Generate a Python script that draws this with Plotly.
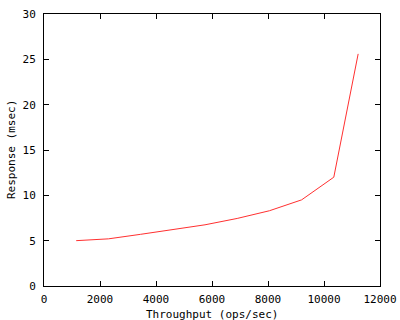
import plotly.graph_objects as go

throughput = [1150, 2300, 3450, 4600, 5750, 6900, 8050, 9200, 10350, 11220]
response = [5.0, 5.2, 5.7, 6.2, 6.75, 7.45, 8.3, 9.5, 12.0, 25.6]

x_ticks = [0, 2000, 4000, 6000, 8000, 10000, 12000]
y_ticks = [0, 5, 10, 15, 20, 25, 30]

FONT = "DejaVu Sans Mono"

fig = go.Figure()
fig.add_trace(go.Scatter(x=throughput, y=response, mode="lines",
                         line=dict(color="#ff3030", width=1), showlegend=False))

axis_common = dict(showgrid=False, zeroline=False, showline=True, linecolor="black",
                   linewidth=1, mirror="allticks", ticks="inside", ticklen=5,
                   tickcolor="black", tickwidth=1, automargin=False,
                   tickfont=dict(family=FONT, size=11, color="black"))

fig.update_layout(
    width=400, height=320, autosize=False,
    margin=dict(l=44, r=20, t=14, b=34, pad=0, autoexpand=False),
    paper_bgcolor="white", plot_bgcolor="white",
    xaxis=dict(range=[0, 12000], tickvals=x_ticks, ticktext=[str(v) for v in x_ticks],
               ticklabelstandoff=3, **axis_common),
    yaxis=dict(range=[0, 30], tickvals=y_ticks, ticktext=[str(v) for v in y_ticks],
               ticklabelstandoff=5, **axis_common),
    annotations=[
        dict(text="Throughput (ops/sec)", xref="paper", yref="paper", x=0.5, y=0,
             xanchor="center", yanchor="middle", yshift=-28, showarrow=False,
             font=dict(family=FONT, size=11, color="black")),
        dict(text="Response (msec)", xref="paper", yref="paper", x=0, y=0.5,
             xanchor="center", yanchor="middle", xshift=-33, textangle=-90,
             showarrow=False, font=dict(family=FONT, size=11, color="black")),
    ],
)

fig.write_html("out.html")
